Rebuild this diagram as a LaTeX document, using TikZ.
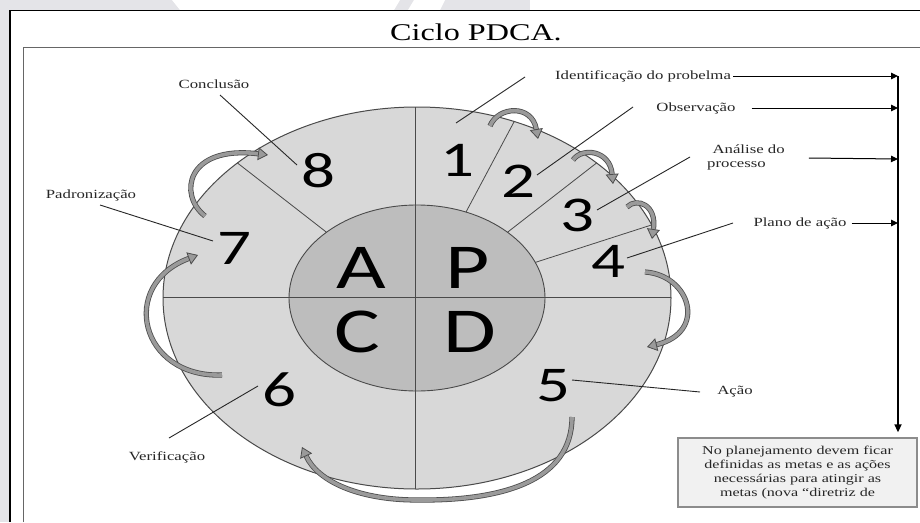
\documentclass[tikz,border=0pt]{standalone}
\usepackage{fontspec}
\setmainfont{Liberation Serif}
\newfontfamily\numfont{Carlito}
\usepackage{graphicx}
\usetikzlibrary{arrows.meta}
\definecolor{ringcol}{HTML}{D8D8D8}
\definecolor{corecol}{HTML}{BDBDBD}
\definecolor{linecol}{HTML}{4A4A4A}
\definecolor{bggray}{HTML}{E4E4E8}
\definecolor{boxfill}{HTML}{F1F1F1}
\definecolor{boxline}{HTML}{8C8C8C}
\definecolor{arrowfill}{HTML}{9A9A9A}
\definecolor{arrowline}{HTML}{4D4D4D}
\newcommand{\wide}[1]{\scalebox{1.34}[1]{#1}}
\begin{document}
\begin{tikzpicture}[x=1pt,y=-1pt,
  lbl/.style={inner sep=0pt, font=\fontsize{12.5}{14}\selectfont, text=black!85},
  big/.style={inner sep=0pt, font=\numfont\fontsize{64}{64}\selectfont},
  num/.style={inner sep=0pt, font=\numfont\fontsize{50}{50}\selectfont},
  pointer/.style={draw=black!85, line width=0.9pt},
  harrow/.style={draw=black, line width=1pt, -{Triangle[length=7pt,width=6.5pt]}},
  varrow/.style={draw=black, line width=1.6pt, -{Triangle[length=8pt,width=7pt]}},
  divider/.style={draw=linecol, line width=0.8pt},
  carrow/.style={draw=arrowline, line width=0.8pt, double=arrowfill, double distance=3.6pt,
    -{Triangle[length=10pt,width=13pt,line width=0.8pt,fill=arrowfill,color=arrowline]}},
]
\useasboundingbox (0,0) rectangle (920,522);
% background / watermark
\fill[white] (0,0) rectangle (920,522);
\fill[bggray] (0,0) rectangle (9,522);
\fill[bggray] (0,0) rectangle (920,10);
\fill[white] (172,0) -- (400,0) -- (394,10) -- (180,10) -- cycle;
\fill[white] (414,0) -- (445,0) -- (440,10) -- (408,10) -- cycle;
\fill[white] (530,0) rectangle (920,10);
% frames
\draw[black, line width=1.6pt] (10,522) -- (10,10.5) -- (920,10.5);
\draw[black!60, line width=1pt] (23,522) -- (23,47) -- (920,47);
\node[inner sep=0pt, font=\fontsize{24}{24}\selectfont] (title) at (476,32) {\wide{Ciclo PDCA.}};
% wheel
\coordinate (O) at (417,298);
\fill[ringcol] (O) ellipse [x radius=254pt, y radius=191pt];
\fill[corecol] (O) ellipse [x radius=128pt, y radius=93pt];
\draw[divider] (163,297) -- (671,297);
\draw[divider] (415,107) -- (415,489);
\foreach \a in {22.5,45,67.5,135}{
  \draw[divider] ({417+128*cos(\a)},{298-93*sin(\a)}) -- ({417+254*cos(\a)},{298-191*sin(\a)});
}
\draw[linecol, line width=0.9pt] (O) ellipse [x radius=128pt, y radius=93pt];
\draw[linecol, line width=1pt] (O) ellipse [x radius=254pt, y radius=191pt];
% letters
\node[big] (A) at (361,268) {\wide{A}};
\node[big] (P) at (468,268) {\wide{P}};
\node[big] (C) at (357,332) {\wide{C}};
\node[big] (D) at (470,332) {\wide{D}};
% numbers
\node[num] (n1) at (457,160) {\wide{1}};
\node[num] (n2) at (518,181) {\wide{2}};
\node[num] (n3) at (577,215) {\wide{3}};
\node[num] (n4) at (608,261) {\wide{4}};
\node[num] (n5) at (553,386) {\wide{5}};
\node[num] (n6) at (279,390) {\wide{6}};
\node[num] (n7) at (234,248) {\wide{7}};
\node[num] (n8) at (318,171) {\wide{8}};
% curved arrows
\draw[carrow] (490,126) .. controls (498,106) and (532,104) .. (538,139);
\draw[carrow] (573,160) .. controls (582,147) and (610,150) .. (613,184);
\draw[carrow] (627,207) .. controls (637,197) and (657,205) .. (652,239);
\draw[carrow] (645,272) .. controls (690,275) and (708,332) .. (647,347);
\draw[carrow] (572,417) .. controls (572,482) and (500,501) .. (417,500) .. controls (360,500) and (318,482) .. (302,447);
\draw[carrow] (222,375) .. controls (140,378) and (118,285) .. (198,255);
\draw[carrow] (205,216) .. controls (178,195) and (186,145) .. (268,155);
% labels
\node[lbl] (ident) at (643,76) {\wide{Identificação do probelma}};
\node[lbl] (obs) at (696,108) {\wide{Observação}};
\node[lbl, anchor=west] (anal) at (707,158) {\wide{\begin{tabular}{@{}l@{}}\hspace{4pt}Análise do\\processo\end{tabular}}};
\node[lbl] (plano) at (800,223) {\wide{Plano de ação}};
\node[lbl] (concl) at (214,84) {\wide{Conclusão}};
\node[lbl] (padr) at (91,195) {\wide{Padronização}};
\node[lbl] (verif) at (167,457) {\wide{Verificação}};
\node[lbl] (acao) at (735,392) {\wide{Ação}};
% pointer lines
\coordinate (p1a) at (525,77);  \coordinate (p1b) at (456,123);
\coordinate (p2a) at (633,107); \coordinate (p2b) at (537,175);
\coordinate (p3a) at (690,157); \coordinate (p3b) at (597,210);
\coordinate (p4a) at (733,223); \coordinate (p4b) at (627,258);
\coordinate (p5a) at (572,380); \coordinate (p5b) at (700,392);
\coordinate (p6a) at (258,386); \coordinate (p6b) at (169,438);
\coordinate (p7a) at (213,241); \coordinate (p7b) at (100,205);
\coordinate (p8a) at (297,165); \coordinate (p8b) at (220,95);
\foreach \i in {1,...,8}{\draw[pointer] (p\i a) -- (p\i b);}
% right side flow
\coordinate (vtop) at (898,76);
\node[draw=boxline, line width=1.3pt, fill=boxfill, minimum width=239pt, minimum height=69pt, inner sep=0pt,
      font=\fontsize{12}{14}\selectfont, text=black!85] (box) at (797.5,472.5)
  {\wide{\begin{tabular}{@{}c@{}}No planejamento devem ficar\\definidas as metas e as ações\\necessárias para atingir as\\metas (nova “diretriz de\end{tabular}}};
\draw[varrow, shorten >=5pt] (vtop) -- (box.north -| vtop);
\draw[harrow] ([xshift=2pt]ident.east) -- (ident.east -| vtop);
\draw[harrow] ([xshift=16pt]obs.east) -- (obs.east -| vtop);
\draw[harrow] ([xshift=24pt]anal.east) -- ([yshift=-1pt]anal.east -| vtop);
\draw[harrow] ([xshift=5pt]plano.east) -- (plano.east -| vtop);
\end{tikzpicture}
\end{document}
